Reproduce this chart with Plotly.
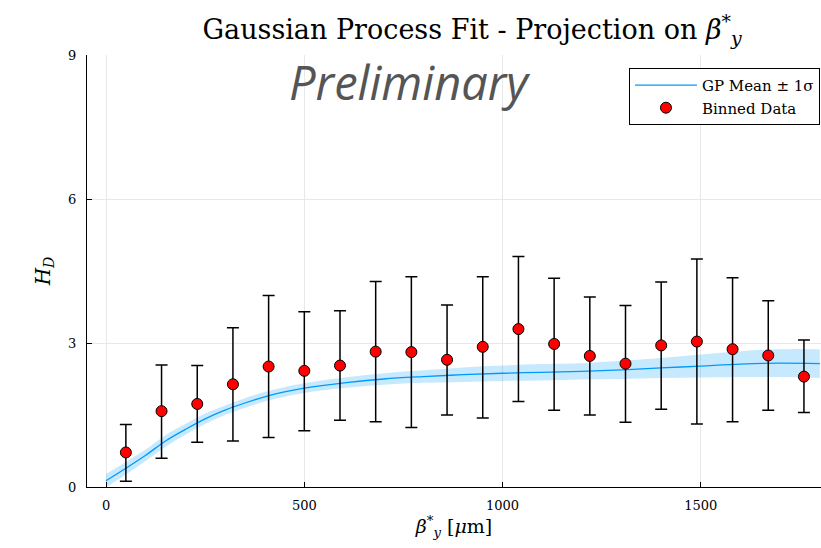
import plotly.graph_objects as go

# Binned data
bin_x = [50, 140, 230, 320, 410, 500, 590, 680, 770, 860,
         950, 1040, 1130, 1220, 1310, 1400, 1490, 1580, 1670, 1760]
bin_y = [0.72, 1.58, 1.73, 2.14, 2.51, 2.42, 2.53, 2.82, 2.81, 2.65,
         2.92, 3.29, 2.98, 2.73, 2.57, 2.95, 3.03, 2.87, 2.74, 2.30]
bin_hi = [1.30, 2.54, 2.53, 3.32, 3.99, 3.65, 3.67, 4.28, 4.38, 3.79,
          4.38, 4.80, 4.35, 3.96, 3.78, 4.27, 4.75, 4.36, 3.88, 3.06]
bin_lo = [0.12, 0.60, 0.93, 0.96, 1.03, 1.17, 1.39, 1.36, 1.24, 1.50,
          1.44, 1.78, 1.60, 1.50, 1.35, 1.62, 1.31, 1.36, 1.60, 1.55]

# GP prediction
gp_x = [0, 50, 100, 150, 200, 250, 300, 350, 400, 450, 500, 600, 700, 800,
        900, 1000, 1100, 1200, 1300, 1400, 1500, 1600, 1700, 1800]
gp_mean = [0.13, 0.39, 0.66, 0.96, 1.20, 1.42, 1.60, 1.75, 1.88, 1.98, 2.06,
           2.17, 2.25, 2.30, 2.34, 2.37, 2.39, 2.41, 2.44, 2.48, 2.52, 2.56,
           2.58, 2.57]
gp_sigma = [0.14, 0.13, 0.12, 0.12, 0.11, 0.11, 0.10, 0.10, 0.10, 0.10, 0.10,
            0.11, 0.12, 0.13, 0.15, 0.16, 0.17, 0.17, 0.19, 0.21, 0.24, 0.27,
            0.29, 0.30]

x_ticks = [0, 500, 1000, 1500]
y_ticks = [0, 3, 6, 9]

BLUE = "#009AFA"
SERIF = "DejaVu Serif"

upper = [m + s for m, s in zip(gp_mean, gp_sigma)]
lower = [m - s for m, s in zip(gp_mean, gp_sigma)]

fig = go.Figure()
fig.add_trace(go.Scatter(x=gp_x, y=lower, mode="lines", line=dict(width=0, shape="spline"),
                         showlegend=False, hoverinfo="skip"))
fig.add_trace(go.Scatter(x=gp_x, y=upper, mode="lines", line=dict(width=0, shape="spline"),
                         fill="tonexty", fillcolor="rgba(0,154,250,0.22)",
                         showlegend=False, hoverinfo="skip"))
fig.add_trace(go.Scatter(x=gp_x, y=gp_mean, mode="lines",
                         line=dict(color=BLUE, width=1.3, shape="spline"),
                         name="GP Mean ± 1σ"))
fig.add_trace(go.Scatter(
    x=bin_x, y=bin_y, mode="markers", name="Binned Data",
    marker=dict(color="red", size=11, line=dict(color="black", width=1)),
    error_y=dict(type="data", symmetric=False,
                 array=[h - y for h, y in zip(bin_hi, bin_y)],
                 arrayminus=[y - l for l, y in zip(bin_lo, bin_y)],
                 color="black", thickness=1.5, width=6)))

fig.add_annotation(text="<i>Preliminary</i>", x=0.44, y=(487 - 82) / 432,
                   xref="paper", yref="paper", xanchor="center", yanchor="middle",
                   showarrow=False, font=dict(family="Open Sans", size=47, color="#555555"))

fig.update_layout(
    width=821, height=548,
    margin=dict(l=87, r=0, t=55, b=61),
    paper_bgcolor="white", plot_bgcolor="white",
    font=dict(family=SERIF, size=13, color="black"),
    title=dict(text="Gaussian Process Fit - Projection on <i>β</i><sup>*</sup><sub><i>y</i></sub>",
               x=0.575, xanchor="center", y=1 - 30 / 548, yanchor="middle",
               font=dict(family=SERIF, size=27)),
    legend=dict(x=0.9986, y=0.97, xanchor="right", yanchor="top",
                traceorder="normal", itemwidth=62,
                bordercolor="black", borderwidth=1, bgcolor="white",
                font=dict(family=SERIF, size=15), tracegroupgap=0),
    xaxis=dict(range=[-48, 1803], tickvals=x_ticks, ticks="inside", ticklen=5,
               tickcolor="black", showline=True, linecolor="black", linewidth=1,
               showgrid=True, gridcolor="#e8e8e8", gridwidth=1, zeroline=False,
               ticklabelstandoff=6,
               tickfont=dict(family=SERIF, size=13),
               title=dict(text="<i>β</i><sup>*</sup><sub><i>y</i></sub> [<i>μ</i>m]",
                          font=dict(family=SERIF, size=19), standoff=8)),
    yaxis=dict(range=[0, 9], tickvals=y_ticks, ticks="inside", ticklen=5,
               tickcolor="black", showline=True, linecolor="black", linewidth=1,
               showgrid=True, gridcolor="#e8e8e8", gridwidth=1, zeroline=False,
               ticklabelstandoff=7,
               tickfont=dict(family=SERIF, size=13),
               title=dict(text="<i>H</i><sub><i>D</i></sub>",
                          font=dict(family=SERIF, size=20), standoff=12)),
)

fig.write_html("out.html")
